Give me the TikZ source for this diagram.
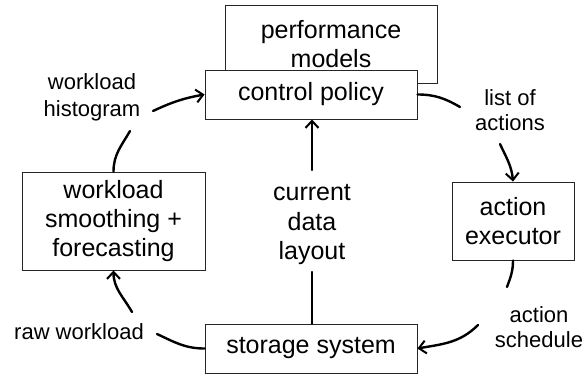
\documentclass[tikz,border=0pt]{standalone}
\usepackage{fontspec}
\setmainfont{Liberation Sans}
\usetikzlibrary{arrows.meta}
\begin{document}
\begin{tikzpicture}[x=1pt,y=1pt,
  box/.style={draw=black!85, line width=0.9pt, fill=white, inner sep=0pt, align=center,
    font=\fontsize{25}{29}\selectfont},
  lbl/.style={inner sep=0pt, align=center, font=\fontsize{22}{25.5}\selectfont},
  conn/.style={line width=2.4pt, line cap=round},
  arr/.style={conn, -{Straight Barb[length=7pt,width=13pt,line width=2pt]}}]
\useasboundingbox (0,0) rectangle (585,-375);
\fill[white] (0,0) rectangle (585,-375);
% boxes
\node[box, minimum width=212pt, minimum height=78pt] (perf) at (331,-44) {performance\\models};
\node[box, minimum width=212pt, minimum height=49pt] (ctrl) at (311,-94.5) {control policy};
\node[box, minimum width=183pt, minimum height=98pt] (wl) at (113.5,-221) {workload\\smoothing +\\forecasting};
\node[box, minimum width=122pt, minimum height=78pt] (exec) at (513,-221) {action\\executor};
\node[box, minimum width=212pt, minimum height=49pt] (stor) at (311,-348.5) {storage system};
% labels
\node[lbl, font=\fontsize{22}{27}\selectfont] (hist) at (92,-97) {workload\\histogram};
\node[lbl] (lst) at (510,-110) {list of\\actions};
\node[lbl, font=\fontsize{25}{29.5}\selectfont] (cur) at (312,-225) {current\\data\\layout};
\node[lbl] (sched) at (539,-327) {action\\schedule};
\node[lbl] (raw) at (79,-332) {raw workload};
% free ends
\coordinate (h1) at (130,-131);
\coordinate (h2) at (153,-111);
\coordinate (l1) at (460,-107);
\coordinate (l2) at (500,-144);
\coordinate (s1) at (507,-287);
\coordinate (s2) at (478,-325);
\coordinate (r1) at (157,-334);
\coordinate (r2) at (132,-312);
\coordinate (c1) at (312,-272);
\coordinate (c2) at (312,-170);
% connectors
\draw[conn] (wl.north) to[out=90,in=-120] (h1);
\draw[arr] (h2) to[out=25,in=190] (ctrl.west);
\draw[conn] (ctrl.east) to[out=0,in=150] (l1);
\draw[arr] (l2) to[out=-65,in=95] (exec.north);
\draw[conn] (exec.south) to[out=-90,in=70] (s1);
\draw[arr] (s2) to[out=-135,in=10] (stor.east);
\draw[conn] (stor.west) to[out=180,in=-25] (r1);
\draw[arr] (r2) to[out=120,in=-90] (wl.south);
\draw[conn] (stor.north -| c1) -- (c1);
\draw[arr] (c2) -- (c2 |- ctrl.south);
\end{tikzpicture}
\end{document}
